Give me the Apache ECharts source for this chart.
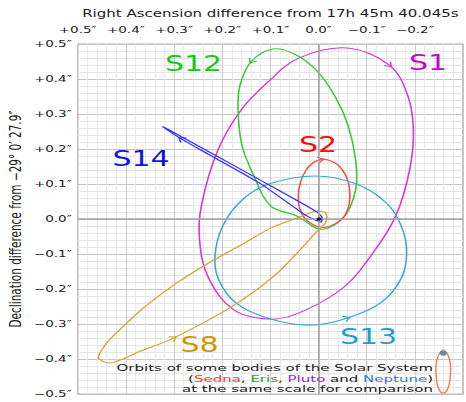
<!DOCTYPE html>
<html><head><meta charset="utf-8">
<script src="https://cdn.jsdelivr.net/npm/echarts@6/dist/echarts.min.js"></script>
<style>
html,body{margin:0;padding:0;background:#fff;overflow:hidden;}
#wrap{width:466px;height:402px;overflow:hidden;}
#chart{width:466px;height:574px;transform:scaleY(0.7);transform-origin:0 0;}
</style></head><body>
<div id="wrap"><div id="chart"></div></div>
<script>
const FONT = '"DejaVu Sans", Verdana, sans-serif';

// Tick values and labels (arcseconds)
const xTickValues = [0.5, 0.4, 0.3, 0.2, 0.1, 0, -0.1, -0.2];
const xTickLabels = ['+0.5″','+0.4″','+0.3″','+0.2″','+0.1″','0.0″','−0.1″','−0.2″'];
const yTickValues = [0.5, 0.4, 0.3, 0.2, 0.1, 0, -0.1, -0.2, -0.3, -0.4, -0.5];
const yTickLabels = ['+0.5″','+0.4″','+0.3″','+0.2″','+0.1″','0.0″','−0.1″','−0.2″','−0.3″','−0.4″','−0.5″'];

// Orbits: [RA offset, Dec offset] in arcseconds
const orbitS1 = [[-0.059,0.489],[-0.147,0.440],[-0.185,0.354],[-0.197,0.254],[-0.189,0.140],[-0.161,0.011],[-0.113,-0.097],[-0.053,-0.194],[0.027,-0.260],[0.095,-0.286],[0.175,-0.260],[0.229,-0.166],[0.247,-0.060],[0.243,0.040],[0.209,0.197],[0.161,0.311],[0.107,0.389],[0.041,0.460]];
const orbitS12 = [[0.095,0.486],[0.139,0.451],[0.163,0.383],[0.167,0.311],[0.159,0.211],[0.135,0.126],[0.099,0.037],[0.045,0.009],[-0.005,-0.029],[-0.051,0.003],[-0.077,0.083],[-0.077,0.169],[-0.061,0.269],[-0.035,0.349],[0.003,0.423],[0.049,0.471]];
const orbitS2 = [[-0.005,0.170],[-0.041,0.154],[-0.064,0.091],[-0.055,0.011],[-0.011,-0.024],[0.029,0.003],[0.042,0.066],[0.026,0.140]];
const orbitS13 = [[0.007,0.123],[-0.079,0.100],[-0.141,0.046],[-0.171,-0.017],[-0.183,-0.089],[-0.173,-0.166],[-0.131,-0.237],[-0.059,-0.283],[0.019,-0.303],[0.105,-0.283],[0.171,-0.240],[0.207,-0.174],[0.215,-0.106],[0.199,-0.020],[0.159,0.054],[0.103,0.100]];
const orbitS8 = [[0.457,-0.397],[0.447,-0.368],[0.435,-0.346],[0.409,-0.311],[0.361,-0.251],[0.295,-0.183],[0.229,-0.126],[0.161,-0.074],[0.095,-0.023],[0.039,0.006],[0.003,0.023],[-0.015,0.017],[-0.015,-0.009],[0.007,-0.040],[0.039,-0.089],[0.095,-0.166],[0.181,-0.251],[0.301,-0.340],[0.369,-0.377],[0.431,-0.411]];
const orbitS14 = [[0.323,0.264],[0.239,0.201],[0.119,0.110],[0.039,0.049],[0.003,0.020],[-0.007,0.006],[-0.005,-0.009],[0.029,0.013],[0.119,0.100],[0.239,0.193],[0.285,0.229]];
const orbitSedna = [[-0.259,-0.374],[-0.269,-0.389],[-0.274,-0.417],[-0.273,-0.460],[-0.267,-0.489],[-0.259,-0.497],[-0.251,-0.489],[-0.245,-0.460],[-0.244,-0.417],[-0.249,-0.389]];
const sgrA = [[-0.001, 0]];
const solarCentre = [[-0.259, -0.383]];

// Direction arrows: [orbit name, vertex index, direction along vertex order]
const arrowMarks = [['S1',1,1],['S12',1,1],['S2',0,1],['S13',7,-1],['S8',17,-1],['S14',10,1]];

const orbits = {S1: orbitS1, S12: orbitS12, S2: orbitS2, S13: orbitS13, S8: orbitS8, S14: orbitS14};
const lineColors = {S1:'#dd33dd', S12:'#33cc33', S2:'#ff4a4a', S13:'#33aad8', S8:'#d9a632', S14:'#3838ff'};
const smoothness = {S1:0.35, S12:0.35, S2:0.37, S13:0.35, S8:0.33, S14:0.18};

function labelFor(values, labels) {
  return function (v) {
    for (let i = 0; i < values.length; i++) if (Math.abs(values[i] - v) < 1e-6) return labels[i];
    return '';
  };
}

function orbitSeries(name, pts, color, smooth, width) {
  return {
    type: 'custom', name: name, coordinateSystem: 'cartesian2d', data: pts, z: 3, silent: true,
    renderItem: function (params, api) {
      if (params.dataIndex !== 0) return null;
      const p = pts.map(function (d) { return api.coord(d); });
      return {type: 'polygon', shape: {points: p, smooth: smooth},
              style: {fill: 'none', stroke: color, lineWidth: width}};
    }
  };
}

const arrowData = arrowMarks.map(function (a) { return orbits[a[0]][a[1]]; });

const series = [];
series.push({
  type: 'line', data: [], z: 1, silent: true,
  markLine: {
    silent: true, symbol: 'none', label: {show: false},
    lineStyle: {color: '#a3a3a3', type: 'solid', width: 1.6},
    data: [{xAxis: 0}, {yAxis: 0, lineStyle: {width: 2.2}}]
  }
});
Object.keys(orbits).forEach(function (k) {
  series.push(orbitSeries(k, orbits[k], lineColors[k], smoothness[k], 1.6));
});
series.push(orbitSeries('Sedna', orbitSedna, '#ff7755', 0.37, 1.4));
series.push({
  type: 'custom', coordinateSystem: 'cartesian2d', data: arrowData, z: 4, silent: true,
  renderItem: function (params, api) {
    const m = arrowMarks[params.dataIndex];
    const pts = orbits[m[0]];
    const n = pts.length, i = m[1];
    const p = api.coord(pts[i]);
    const a = api.coord(pts[(i - 1 + n) % n]);
    const b = api.coord(pts[(i + 1) % n]);
    let dx = (b[0] - a[0]) * m[2], dy = (b[1] - a[1]) * m[2];
    const len = Math.sqrt(dx * dx + dy * dy);
    dx /= len; dy /= len;
    const L = 3, W = 4.2;
    const tip = [p[0] + dx * L, p[1] + dy * L];
    const back = [p[0] - dx * L, p[1] - dy * L];
    return {type: 'polyline',
      shape: {points: [[back[0] - dy * W, back[1] + dx * W], tip, [back[0] + dy * W, back[1] - dx * W]]},
      style: {fill: 'none', stroke: lineColors[m[0]], lineWidth: 1.5}};
  }
});
series.push({type: 'scatter', data: sgrA, symbol: 'circle', symbolSize: 5, z: 5, silent: true,
  itemStyle: {color: '#000'}});
series.push({type: 'scatter', data: solarCentre, symbol: 'circle', symbolSize: 6, z: 5, silent: true,
  itemStyle: {color: '#4a5fd0', borderColor: '#44aa55', borderWidth: 1.5}});

function txt(x, y, text, color, size, align) {
  return {type: 'text', x: x, y: y, silent: true, z: 10,
    style: {text: text, fill: color, fontSize: size, fontFamily: FONT,
      align: align || 'center', verticalAlign: 'middle',
      textAlign: align || 'center', textVerticalAlign: 'middle'}};
}

function rs(color) { return {fill: color, fontSize: 15, fontFamily: FONT, lineHeight: 18}; }

const option = {
  animation: false,
  backgroundColor: '#fff',
  grid: {left: 72, right: -3, top: 63, bottom: 11, show: true, borderColor: '#b0b0b0', borderWidth: 1.5, backgroundColor: '#fff'},
  xAxis: {
    type: 'value', position: 'top', inverse: true, min: -0.3, max: 0.5, interval: 0.1,
    name: 'Right Ascension difference from 17h 45m 40.045s', nameLocation: 'middle', nameGap: 37,
    nameTextStyle: {fontSize: 15, fontFamily: FONT, color: '#222'},
    axisLine: {show: false}, axisTick: {show: false},
    axisLabel: {formatter: labelFor(xTickValues, xTickLabels), margin: 13, fontSize: 13.5, fontFamily: FONT, color: '#222'},
    splitLine: {lineStyle: {color: '#c4c4c4', width: 1}},
    minorTick: {show: false, splitNumber: 5},
    minorSplitLine: {show: true, lineStyle: {color: '#e6e6e6', width: 1}}
  },
  yAxis: {
    type: 'value', min: -0.5, max: 0.5, interval: 0.1,
    name: 'Declination difference from −29° 0′ 27.9″', nameLocation: 'middle', nameRotate: 90, nameGap: 50,
    nameTextStyle: {fontSize: 15, fontFamily: FONT, color: '#222'},
    axisLine: {show: false}, axisTick: {show: false},
    axisLabel: {formatter: labelFor(yTickValues, yTickLabels), margin: 6, fontSize: 13.5, fontFamily: FONT, color: '#222'},
    splitLine: {lineStyle: {color: '#c4c4c4', width: 1.4}},
    minorTick: {show: false, splitNumber: 5},
    minorSplitLine: {show: true, lineStyle: {color: '#e6e6e6', width: 1.4}}
  },
  series: series,
  graphic: [
    txt(428, 90, 'S1', '#cc00cc', 30),
    txt(193.5, 90.7, 'S12', '#11cc11', 30),
    txt(318, 206.4, 'S2', '#ff0a0a', 30),
    txt(141, 226.4, 'S14', '#1010ee', 30),
    txt(368.5, 480.7, 'S13', '#1a9fd2', 30),
    txt(199.5, 492.1, 'S8', '#cc9900', 30),
    {type: 'text', x: 433, y: 541, scaleY: 0.82, silent: true, z: 10,
      style: {
        text: '{k|Orbits of some bodies of the Solar System}\n{k|(}{s|Sedna}{k|, }{e|Eris}{k|, }{p|Pluto}{k| and }{n|Neptune}{k|)}\n{k|at the same scale for comparison}',
        fill: '#222', fontSize: 15, fontFamily: FONT, lineHeight: 18,
        align: 'right', verticalAlign: 'middle', textAlign: 'right', textVerticalAlign: 'middle',
        rich: {k: rs('#222'), s: rs('#ff3a1a'), e: rs('#22a022'), p: rs('#a020f0'), n: rs('#2a7ee0')}
      }}
  ]
};

const chart = echarts.init(document.getElementById('chart'), null, {renderer: 'svg', width: 466, height: 574});
chart.setOption(option);
</script></body></html>
